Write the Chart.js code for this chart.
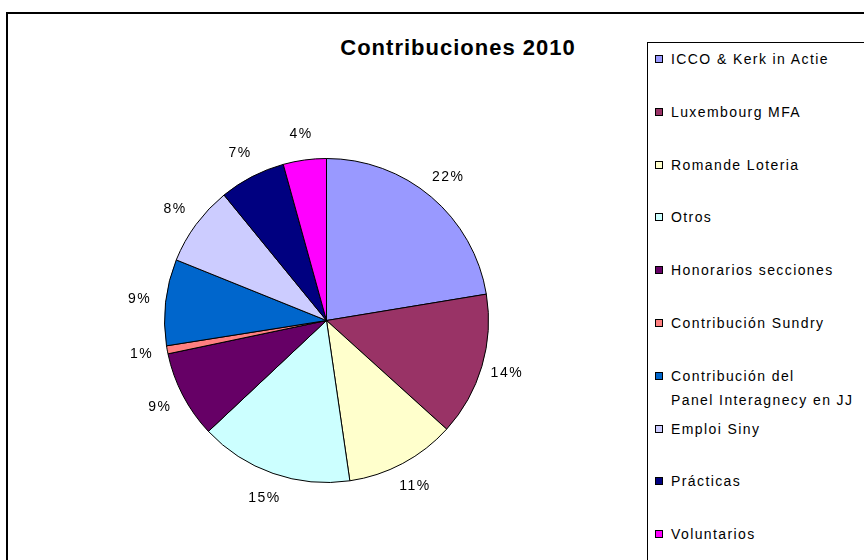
<!DOCTYPE html>
<html>
<head>
<meta charset="utf-8">
<script src="https://cdn.jsdelivr.net/npm/chart.js@4/dist/chart.umd.min.js"></script>
<style>
  html, body { margin: 0; padding: 0; background: #fff; }
  #wrap { position: relative; width: 864px; height: 560px; overflow: hidden; font-family: "Liberation Sans", Arial, sans-serif; }
  #frame { position: absolute; left: 6px; top: 12px; width: 900px; height: 600px; border: 2px solid #000; }
  #title { position: absolute; left: 258px; width: 400px; top: 34px; text-align: center; font-weight: bold; font-size: 22px; letter-spacing: 1px; line-height: 28px; }
  #legend { position: absolute; left: 647px; top: 42px; width: 300px; height: 600px; border: 1px solid #000; }
  .item { position: absolute; left: 7px; font-size: 14px; letter-spacing: 1.4px; line-height: 24px; white-space: nowrap; }
  .item i { position: absolute; left: 0; top: 8px; width: 6px; height: 6px; border: 1px solid #000; }
  .item span { display: block; margin-left: 16px; }
  canvas { position: absolute; left: 0; top: 0; }
</style>
</head>
<body>
<div id="wrap">
  <div id="frame"></div>
  <div id="title">Contribuciones 2010</div>
  <div id="legend"></div>
  <canvas id="pie" width="864" height="560"></canvas>
</div>
<script>
// data (shares in %)
const categories = [
  'ICCO & Kerk in Actie',
  'Luxembourg MFA',
  'Romande Loteria',
  'Otros',
  'Honorarios secciones',
  'Contribución Sundry',
  ['Contribución del', 'Panel Interagnecy en JJ'],
  'Emploi Siny',
  'Prácticas',
  'Voluntarios'
];
const shares = [22.4, 14.3, 11.0, 15.3, 8.7, 0.8, 8.6, 8.0, 6.6, 4.3];
const colors = ['#9999FF', '#993366', '#FFFFCC', '#CCFFFF', '#660066', '#FF8080', '#0066CC', '#CCCCFF', '#000080', '#FF00FF'];

// html legend, boxed like the original
const legendEl = document.getElementById('legend');
categories.forEach((name, i) => {
  const row = document.createElement('div');
  row.className = 'item';
  row.style.top = (4 + i * 52.8) + 'px';
  const box = document.createElement('i');
  box.style.background = colors[i];
  const txt = document.createElement('span');
  txt.innerHTML = (Array.isArray(name) ? name : [name]).join('<br>');
  row.appendChild(box);
  row.appendChild(txt);
  legendEl.appendChild(row);
});

// percentage labels outside each slice
const outsideLabels = {
  id: 'outsideLabels',
  afterDatasetsDraw(chart) {
    const ctx = chart.ctx;
    const meta = chart.getDatasetMeta(0);
    const total = shares.reduce((a, b) => a + b, 0);
    ctx.save();
    ctx.font = '14px "Liberation Sans", Arial, sans-serif';
    if ('letterSpacing' in ctx) ctx.letterSpacing = '1.5px';
    ctx.fillStyle = '#000';
    ctx.textAlign = 'center';
    ctx.textBaseline = 'middle';
    meta.data.forEach((arc, i) => {
      const mid = (arc.startAngle + arc.endAngle) / 2;
      const d = arc.outerRadius + 26;
      const x = arc.x + Math.cos(mid) * d;
      const y = arc.y + Math.sin(mid) * d;
      ctx.fillText(Math.round(shares[i] / total * 100) + '%', x, y);
    });
    ctx.restore();
  }
};

new Chart(document.getElementById('pie'), {
  type: 'pie',
  data: {
    labels: categories,
    datasets: [{
      data: shares,
      backgroundColor: colors,
      borderColor: '#000',
      borderWidth: 1
    }]
  },
  options: {
    responsive: false,
    animation: false,
    radius: 162,
    layout: { padding: { left: 164, right: 375, top: 158, bottom: 77 } },
    plugins: {
      legend: { display: false },
      tooltip: { enabled: false },
      title: { display: false }
    }
  },
  plugins: [outsideLabels]
});
</script>
</body>
</html>
